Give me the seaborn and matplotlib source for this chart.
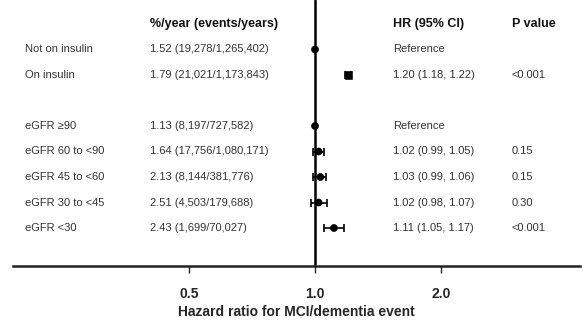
import numpy as np
import pandas as pd
import matplotlib
matplotlib.use("Agg")
import matplotlib.pyplot as plt
import matplotlib.transforms as mtransforms
import seaborn as sns

# Datos del forest plot
labels = ["Not on insulin", "On insulin", "eGFR \u226590", "eGFR 60 to <90",
          "eGFR 45 to <60", "eGFR 30 to <45", "eGFR <30"]
rows = [1, 2, 4, 5, 6, 7, 8]
rates = ["1.52 (19,278/1,265,402)", "1.79 (21,021/1,173,843)", "1.13 (8,197/727,582)",
         "1.64 (17,756/1,080,171)", "2.13 (8,144/381,776)", "2.51 (4,503/179,688)",
         "2.43 (1,699/70,027)"]
hr = [1.0, 1.20, 1.0, 1.02, 1.03, 1.02, 1.11]
lo = [np.nan, 1.18, np.nan, 0.99, 0.99, 0.98, 1.05]
hi = [np.nan, 1.22, np.nan, 1.05, 1.06, 1.07, 1.17]
hr_text = ["Reference", "1.20 (1.18, 1.22)", "Reference", "1.02 (0.99, 1.05)",
           "1.03 (0.99, 1.06)", "1.02 (0.98, 1.07)", "1.11 (1.05, 1.17)"]
pvals = ["", "<0.001", "", "0.15", "0.15", "0.30", "<0.001"]
markers = ["o", "s", "o", "o", "o", "o", "o"]
xticks = [0.5, 1.0, 2.0]

df = pd.DataFrame({"label": labels, "row": rows, "hr": hr, "lo": lo, "hi": hi,
                   "marker": markers})

sns.set_style("white")
plt.rcParams["font.family"] = ["Liberation Sans", "DejaVu Sans"]

fig = plt.figure(figsize=(5.83, 3.2), dpi=100)
W, H = 583, 320
ax = fig.add_axes([13 / W, 1 - 266 / H, (580 - 13) / W, 266 / H])
ax.set_xscale("log")
ax.set_xlim(2 ** ((13 - 315) / 126), 2 ** ((580 - 315) / 126))
ax.set_ylim((266 - 24) / 25.5, -24 / 25.5)

# linea de referencia
ax.axvline(1.0, color="black", lw=1.8, zorder=1)

# intervalos de confianza
ci = df.dropna()
ax.errorbar(ci["hr"], ci["row"], xerr=[ci["hr"] - ci["lo"], ci["hi"] - ci["hr"]],
            fmt="none", ecolor="black", elinewidth=1.2, capsize=3, capthick=1.2, zorder=2)
sns.scatterplot(data=df, x="hr", y="row", style="marker",
                markers={"o": "o", "s": "s"}, color="black", s=26,
                edgecolor="black", legend=False, ax=ax, zorder=3)

# columnas de texto
trans = mtransforms.blended_transform_factory(fig.transFigure, ax.transData)
tc = "#333333"
fs = 8
hfs = 9
for xpos, head in [(150, "%/year (events/years)"), (393, "HR (95% CI)"), (512, "P value")]:
    ax.text(xpos / W, 0, head, transform=trans, fontsize=hfs,
            fontweight="bold", va="center", ha="left", color="#111111")
for r, lab, rt, ht, pv in zip(rows, labels, rates, hr_text, pvals):
    ax.text(25 / W, r, lab, transform=trans, fontsize=fs, color=tc, va="center")
    ax.text(150 / W, r, rt, transform=trans, fontsize=fs, color=tc, va="center")
    ax.text(393 / W, r, ht, transform=trans, fontsize=fs, color=tc, va="center")
    ax.text(512 / W, r, pv, transform=trans, fontsize=fs, color=tc, va="center")

for s in ["top", "right", "left"]:
    ax.spines[s].set_visible(False)
ax.spines["bottom"].set_linewidth(1.8)
ax.spines["bottom"].set_color("#222222")
ax.set_yticks([])
ax.set_xticks(xticks)
ax.set_xticklabels(["0.5", "1.0", "2.0"], fontsize=10, fontweight="bold")
ax.xaxis.set_minor_locator(matplotlib.ticker.NullLocator())
ax.tick_params(axis="x", direction="out", length=5, width=1, pad=10, bottom=True)
ax.set_xlabel("Hazard ratio for MCI/dementia event", fontsize=10, fontweight="bold")
ax.xaxis.set_label_coords(0.5, -0.145)
ax.set_ylabel("")

fig.savefig("out.png", dpi=100)
